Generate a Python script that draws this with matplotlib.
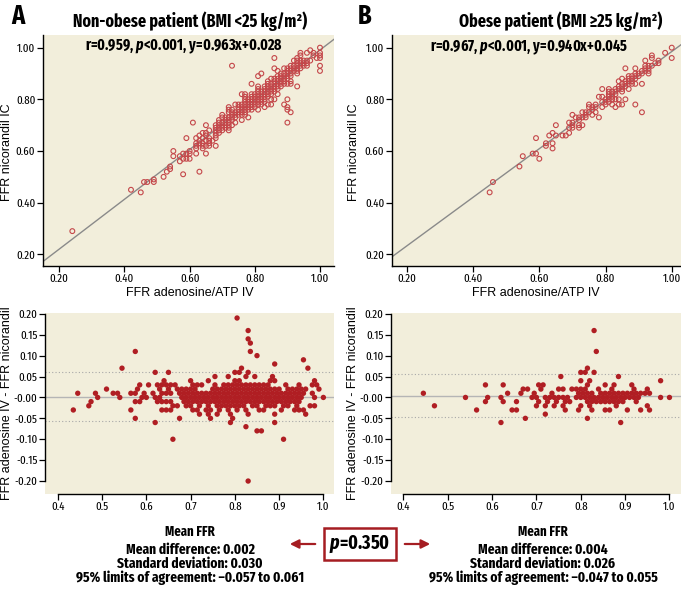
import numpy as np
import matplotlib
matplotlib.use("Agg")
import matplotlib.pyplot as plt
from matplotlib.patches import FancyArrowPatch

COND = ["Fira Sans Extra Condensed", "DejaVu Sans"]
plt.rcParams["font.family"] = ["Liberation Sans", "DejaVu Sans"]
plt.rcParams["mathtext.fontset"] = "custom"
plt.rcParams["mathtext.it"] = "Fira Sans Extra Condensed:italic:bold"
plt.rcParams["mathtext.rm"] = "Fira Sans Extra Condensed:bold"

# Bland-Altman readings: difference (adenosine - nicorandil) -> list of mean FFR values
rows_a = {
    0.19: [0.805],
    0.16: [0.83],
    0.14: [0.83],
    0.13: [0.835],
    0.11: [0.575, 0.835],
    0.10: [0.85],
    0.09: [0.955],
    0.08: [0.89],
    0.07: [0.545, 0.815, 0.965],
    0.06: [0.62, 0.65, 0.80, 0.81, 0.83],
    0.05: [0.755, 0.785, 0.825, 0.845, 0.885],
    0.04: [0.64, 0.70, 0.74, 0.80, 0.81, 0.88, 0.89, 0.98],
    0.03: [0.585, 0.605, 0.625, 0.635, 0.645, 0.655, 0.665, 0.705, 0.715, 0.725,
           0.755, 0.775, 0.785, 0.795, 0.805, 0.815, 0.825, 0.835, 0.845, 0.855,
           0.865, 0.875, 0.915, 0.945, 0.975, 0.985],
    0.02: [0.51, 0.58, 0.63, 0.65, 0.67, 0.68, 0.69, 0.70, 0.71, 0.75, 0.76, 0.77,
           0.78, 0.79, 0.80, 0.81, 0.82, 0.83, 0.84, 0.85, 0.86, 0.87, 0.88, 0.89,
           0.90, 0.92, 0.93, 0.94, 0.95, 0.96, 0.99],
    0.01: [0.445, 0.485, 0.525, 0.535, 0.565, 0.575, 0.595, 0.615, 0.635, 0.645,
           0.655, 0.675, 0.685, 0.695, 0.705, 0.715, 0.725, 0.735, 0.745, 0.755,
           0.765, 0.775, 0.785, 0.795, 0.805, 0.815, 0.825, 0.835, 0.845, 0.855,
           0.865, 0.875, 0.885, 0.895, 0.905, 0.915, 0.925, 0.935, 0.945, 0.955, 0.975],
    0.00: [0.49, 0.54, 0.59, 0.60, 0.62, 0.63, 0.68, 0.69, 0.70, 0.71, 0.72, 0.73,
           0.74, 0.75, 0.76, 0.77, 0.78, 0.79, 0.80, 0.81, 0.82, 0.83, 0.84, 0.85,
           0.86, 0.87, 0.88, 0.89, 0.90, 0.91, 0.92, 0.93, 0.94, 0.95, 0.98, 1.00],
    -0.01: [0.475, 0.575, 0.585, 0.625, 0.635, 0.645, 0.655, 0.685, 0.695, 0.705,
            0.715, 0.725, 0.735, 0.745, 0.755, 0.765, 0.775, 0.785, 0.795, 0.805,
            0.815, 0.825, 0.835, 0.845, 0.855, 0.865, 0.875, 0.885, 0.895, 0.905,
            0.915, 0.925, 0.935, 0.945],
    -0.02: [0.47, 0.66, 0.67, 0.69, 0.70, 0.72, 0.74, 0.76, 0.77, 0.78, 0.79, 0.80,
            0.81, 0.82, 0.84, 0.85, 0.87, 0.88, 0.89, 0.91, 0.92, 0.94, 0.97, 0.98],
    -0.03: [0.435, 0.565, 0.635, 0.645, 0.655, 0.705, 0.715, 0.735, 0.745, 0.765,
            0.785, 0.805, 0.825, 0.855, 0.865, 0.905, 0.935, 0.945, 0.955],
    -0.04: [0.72, 0.74, 0.76, 0.79, 0.83, 0.89, 0.96],
    -0.05: [0.265, 0.575, 0.675, 0.745, 0.795],
    -0.06: [0.62, 0.79, 0.89],
    -0.07: [0.825],
    -0.08: [0.85, 0.86],
    -0.10: [0.66, 0.91],
    -0.20: [0.83],
}

rows_b = {
    0.16: [0.83],
    0.11: [0.835],
    0.07: [0.815],
    0.06: [0.80, 0.81, 0.83],
    0.05: [0.755, 0.885],
    0.04: [0.80, 0.82, 0.98],
    0.03: [0.585, 0.625, 0.705, 0.715, 0.815, 0.855, 0.875, 0.915],
    0.02: [0.67, 0.68, 0.71, 0.75, 0.76, 0.78, 0.79, 0.80, 0.81, 0.84, 0.87, 0.92, 0.95],
    0.01: [0.445, 0.635, 0.665, 0.695, 0.735, 0.795, 0.805, 0.815, 0.825, 0.845,
           0.855, 0.865, 0.875, 0.885, 0.895, 0.905, 0.915, 0.925, 0.935, 0.945, 0.955],
    0.00: [0.54, 0.59, 0.62, 0.69, 0.70, 0.72, 0.73, 0.74, 0.75, 0.76, 0.77, 0.79,
           0.80, 0.81, 0.82, 0.83, 0.84, 0.85, 0.86, 0.87, 0.88, 0.89, 0.90, 0.91,
           0.92, 0.93, 0.98, 1.00],
    -0.01: [0.585, 0.625, 0.655, 0.705, 0.725, 0.745, 0.765, 0.775, 0.815, 0.825,
            0.835, 0.845, 0.855, 0.865, 0.875, 0.885, 0.895, 0.925],
    -0.02: [0.47, 0.70, 0.72, 0.74, 0.76, 0.80, 0.82, 0.88, 0.95],
    -0.03: [0.565, 0.645, 0.655, 0.765, 0.795, 0.825, 0.855, 0.865, 0.905, 0.935, 0.955],
    -0.04: [0.72],
    -0.05: [0.675, 0.815],
    -0.06: [0.62, 0.89],
}

titles = ["Non-obese patient (BMI <25 kg/m²)", "Obese patient (BMI ≥25 kg/m²)"]
fit_slope = [0.963, 0.940]
fit_icept = [0.028, 0.045]
fit_text = ["r=0.959, $p$<0.001, y=0.963x+0.028", "r=0.967, $p$<0.001, y=0.940x+0.045"]
mean_diff = [0.002, 0.004]
sd_diff = [0.030, 0.026]
loa_low = [-0.057, -0.047]
loa_high = [0.061, 0.055]
p_between = "0.350"

top_ticks = [0.20, 0.40, 0.60, 0.80, 1.00]
ba_xticks = [0.4, 0.5, 0.6, 0.7, 0.8, 0.9, 1.0]
ba_yticks = [0.20, 0.15, 0.10, 0.05, 0.00, -0.05, -0.10, -0.15, -0.20]
ba_ylabels = ["0.20", "0.15", "0.10", "0.05", "-0.00", "-0.05",
              "-0.10", "-0.15", "-0.20"]


def expand(rows):
    m, d = [], []
    for diff, means in rows.items():
        m += means
        d += [diff] * len(means)
    m, d = np.array(m), np.array(d)
    return m, d, np.round(m + d / 2, 2), np.round(m - d / 2, 2)


BG = "#f2eedb"
RED = "#b01e23"
CIRC = "#c4474a"
DARK = "#a51d22"

W, H = 681, 591
fig = plt.figure(figsize=(W / 100, H / 100), dpi=100)


def px_axes(l, t, r, b):
    return fig.add_axes([l / W, 1 - b / H, (r - l) / W, (b - t) / H])


def ftext(x, y, s, **kw):
    return fig.text(x / W, 1 - y / H, s, **kw)


def style(ax):
    ax.set_facecolor(BG)
    for s in ["top", "right"]:
        ax.spines[s].set_visible(False)
    for s in ["left", "bottom"]:
        ax.spines[s].set_linewidth(1.0)
    ax.tick_params(direction="out", length=4, width=0.9, pad=1.5, labelsize=8.5)
    for lab in ax.get_xticklabels() + ax.get_yticklabels():
        lab.set_family(COND)


top_axes = [px_axes(43, 35, 334, 266), px_axes(392, 35, 681, 266)]
top_xlim = [(0.150, 1.043), (0.155, 1.028)]
ba_axes = [px_axes(45, 313, 334, 494), px_axes(391, 313, 681, 494)]
ba_xlim = [(0.371, 1.024), (0.372, 1.026)]

for i, rows in enumerate([rows_a, rows_b]):
    m, d, aden, nico = expand(rows)

    ax = top_axes[i]
    ax.set_xlim(*top_xlim[i])
    ax.set_ylim(0.155, 1.049)
    xs = np.array(top_xlim[i])
    ax.plot(xs, fit_slope[i] * xs + fit_icept[i], color="#8a8a8a", lw=1.0, zorder=1)
    ax.scatter(aden, nico, s=12, facecolors="none", edgecolors=CIRC, linewidths=0.8, zorder=2)
    ax.set_xticks(top_ticks)
    ax.set_xticklabels([f"{t:.2f}" for t in top_ticks])
    ax.set_yticks(top_ticks)
    ax.set_yticklabels([f"{t:.2f}" for t in top_ticks])
    style(ax)

    bx = ba_axes[i]
    bx.set_xlim(*ba_xlim[i])
    bx.set_ylim(-0.231, 0.202)
    bx.axhline(mean_diff[i], color="#b5b5b5", lw=1.0, zorder=1)
    bx.axhline(loa_high[i], color="#a8a8a8", lw=0.8, ls=(0, (1, 2)), zorder=1)
    bx.axhline(loa_low[i], color="#a8a8a8", lw=0.8, ls=(0, (1, 2)), zorder=1)
    bx.scatter(m, d, s=15, color=RED, edgecolors="none", zorder=2)
    bx.set_xticks(ba_xticks)
    bx.set_xticklabels([f"{t:.1f}" for t in ba_xticks])
    bx.set_yticks(ba_yticks)
    bx.set_yticklabels(ba_ylabels)
    bx.spines["left"].set_bounds(-0.20, 0.20)
    bx.spines["bottom"].set_bounds(0.4, 1.0)
    style(bx)

# titles, panel letters and fit statistics
for x, letter in [(18, "A"), (365, "B")]:
    ftext(x, 16, letter, family=COND, weight="bold", fontsize=19, ha="center", va="center")
ftext(190, 21, titles[0], family=COND, weight="bold", fontsize=12.5, ha="center", va="center")
ftext(561, 21, titles[1], family=COND, weight="bold", fontsize=12.5, ha="center", va="center")
ftext(184, 47, fit_text[0], family=COND, weight="bold", fontsize=11, ha="center", va="center")
ftext(529, 47, fit_text[1], family=COND, weight="bold", fontsize=11, ha="center", va="center")

# axis labels
for xc, yl in [(7, "FFR nicorandil IC"), (354, "FFR nicorandil IC")]:
    ftext(xc, 152, yl, fontsize=9, rotation=90, ha="center", va="center")
ftext(190, 293, "FFR adenosine/ATP IV", fontsize=9, ha="center", va="center")
ftext(536, 293, "FFR adenosine/ATP IV", fontsize=9, ha="center", va="center")
for xc in [7, 353]:
    ftext(xc, 403, "FFR adenosine IV - FFR nicorandil", fontsize=9, rotation=90,
          ha="center", va="center")

# Bland-Altman summaries
for i, xc in enumerate([190, 543]):
    ftext(xc, 532, "Mean FFR", family=COND, weight="bold", fontsize=10, ha="center", va="center")
    ftext(xc, 550, f"Mean difference: {mean_diff[i]:.3f}", family=COND, weight="bold",
          fontsize=10.5, ha="center", va="center")
    ftext(xc, 564, f"Standard deviation: {sd_diff[i]:.3f}", family=COND, weight="bold",
          fontsize=10.5, ha="center", va="center")
    ftext(xc, 578, f"95% limits of agreement: \u2013{abs(loa_low[i]):.3f} to {loa_high[i]:.3f}",
          family=COND, weight="bold", fontsize=10.5, ha="center", va="center")

ftext(360, 544, f"$p$=" + p_between, family=COND, weight="bold", fontsize=14,
      ha="center", va="center",
      bbox=dict(boxstyle="square,pad=0.3", fc="white", ec=DARK, lw=1.8))
for x0, x1 in [(318, 287), (402, 433)]:
    fig.add_artist(FancyArrowPatch((x0 / W, 1 - 544 / H), (x1 / W, 1 - 544 / H),
                                   transform=fig.transFigure, arrowstyle="-|>",
                                   mutation_scale=13, color=DARK, lw=1.6))

fig.savefig("out.png", dpi=100)
